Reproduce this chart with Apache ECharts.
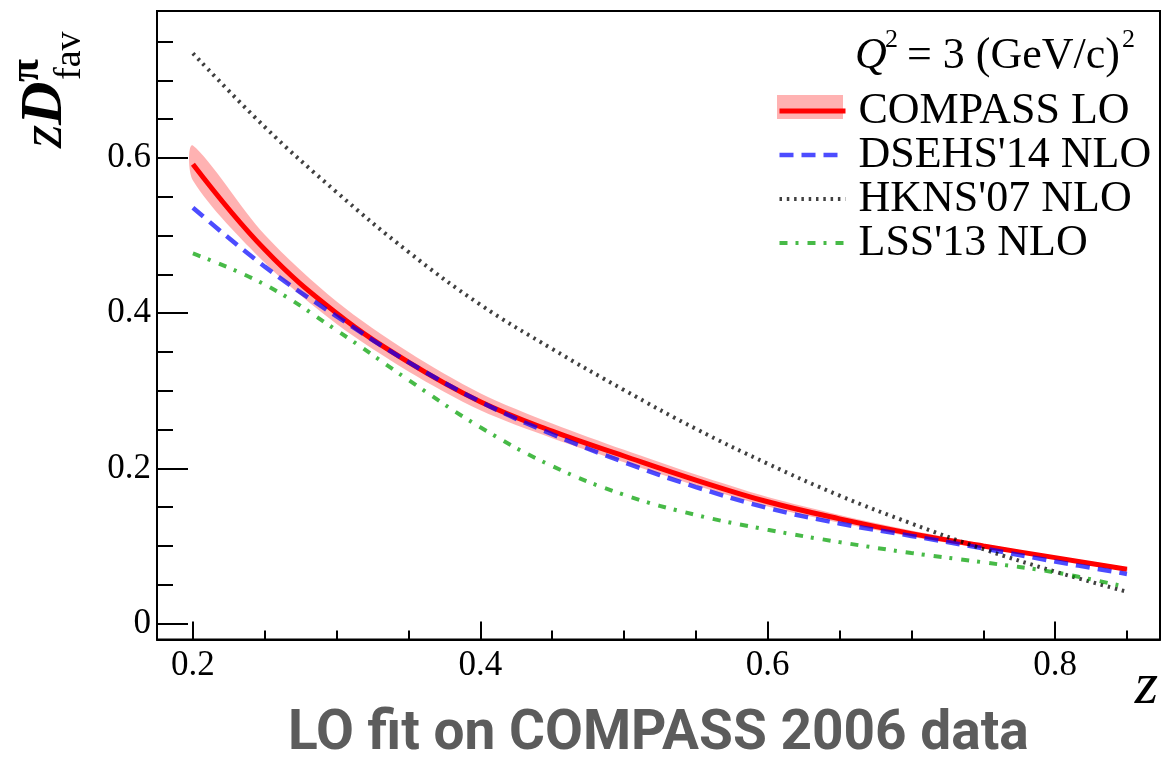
<!DOCTYPE html>
<html>
<head>
<meta charset="utf-8">
<script src="https://cdn.jsdelivr.net/npm/echarts@6/dist/echarts.min.js"></script>
<style>
html,body{margin:0;padding:0;background:#fff;}
#chart{width:1163px;height:759px;}
</style>
</head>
<body>
<div id="chart"></div>
<script>
// ---- data ----
var zVals      = [0.20, 0.25, 0.30, 0.35, 0.40, 0.45, 0.50, 0.55, 0.60, 0.65, 0.70, 0.75, 0.80, 0.85];
var compassLO  = [0.592, 0.482, 0.400, 0.337, 0.286, 0.248, 0.216, 0.185, 0.157, 0.135, 0.116, 0.100, 0.085, 0.070];
var bandLower  = [0.571, 0.465, 0.386, 0.325, 0.275, 0.239, 0.208, 0.178, 0.151, 0.130, 0.112, 0.097, 0.083, 0.068];
var bandUpper  = [0.616, 0.501, 0.415, 0.350, 0.297, 0.258, 0.224, 0.192, 0.163, 0.140, 0.120, 0.103, 0.087, 0.072];
var dsehs14    = [0.536, 0.460, 0.396, 0.337, 0.286, 0.244, 0.208, 0.176, 0.149, 0.129, 0.113, 0.097, 0.080, 0.064];
var hkns07     = [0.735, 0.640, 0.556, 0.479, 0.411, 0.354, 0.301, 0.251, 0.206, 0.165, 0.129, 0.096, 0.067, 0.041];
var lss13      = [0.477, 0.437, 0.378, 0.314, 0.253, 0.203, 0.166, 0.140, 0.121, 0.105, 0.091, 0.079, 0.066, 0.047];

var xMajorTicks = [0.2, 0.4, 0.6, 0.8];
var xMinorTicks = [0.25, 0.3, 0.35, 0.45, 0.5, 0.55, 0.65, 0.7, 0.75, 0.85];
var yMajorTicks = [0, 0.2, 0.4, 0.6];
var yMinorTicks = [0.05, 0.1, 0.15, 0.25, 0.3, 0.35, 0.45, 0.5, 0.55, 0.65, 0.7, 0.75];

var seriesNames = ['COMPASS LO', "DSEHS'14 NLO", "HKNS'07 NLO", "LSS'13 NLO"];

function pairs(ys) { return zVals.map(function (z, i) { return [z, ys[i]]; }); }
var bandData = zVals.map(function (z, i) { return [z, bandLower[i], bandUpper[i]]; });

var SERIF = 'Liberation Serif';
var SMOOTH = 0.4;

var chart = echarts.init(document.getElementById('chart'), null, {renderer: 'canvas'});

var xBase = {
  type: 'value', min: 0.175, max: 0.873, gridIndex: 0, position: 'bottom',
  splitLine: {show: false}
};
var yBase = {
  type: 'value', min: -0.0205, max: 0.7895, gridIndex: 0, position: 'left',
  splitLine: {show: false}
};

function renderBand(params, api) {
  if (params.dataIndex !== 0) { return null; }
  var upper = [], lower = [];
  for (var i = 0; i < zVals.length; i++) {
    upper.push(api.coord([zVals[i], bandUpper[i]]));
    lower.push(api.coord([zVals[i], bandLower[i]]));
  }
  var pts = upper.concat(lower.reverse());
  return {
    type: 'polygon',
    shape: {points: pts, smooth: 0.3},
    style: {fill: 'rgba(255,0,0,0.3)', stroke: null}
  };
}

var option = {
  animation: false,
  backgroundColor: '#ffffff',
  title: {
    text: 'LO fit on COMPASS 2006 data',
    left: 288, top: 708,
    padding: 0,
    textStyle: {fontFamily: 'Roboto', fontWeight: 'bold', fontSize: 55, color: '#5c5c5c'}
  },
  grid: {
    left: 157, top: 11, right: 3, bottom: 119.5,
    show: true, borderColor: '#000', borderWidth: 2, backgroundColor: 'transparent',
    containLabel: false
  },
  xAxis: [
    Object.assign({}, xBase, {
      axisLine: {show: true, onZero: false, lineStyle: {color: '#000', width: 2}},
      axisTick: {show: true, inside: true, length: 18, customValues: xMajorTicks, lineStyle: {color: '#000', width: 2}},
      axisLabel: {show: true, customValues: xMajorTicks, margin: 9, fontFamily: SERIF, fontSize: 35, color: '#000'}
    }),
    Object.assign({}, xBase, {
      axisLine: {show: false, onZero: false},
      axisTick: {show: true, inside: true, length: 9, customValues: xMinorTicks, lineStyle: {color: '#000', width: 2}},
      axisLabel: {show: false}
    })
  ],
  yAxis: [
    Object.assign({}, yBase, {
      axisLine: {show: true, onZero: false, lineStyle: {color: '#000', width: 2}},
      axisTick: {show: true, inside: true, length: 31, customValues: yMajorTicks, lineStyle: {color: '#000', width: 2}},
      axisLabel: {show: true, customValues: yMajorTicks, margin: 6, fontFamily: SERIF, fontSize: 35, color: '#000'}
    }),
    Object.assign({}, yBase, {
      axisLine: {show: false, onZero: false},
      axisTick: {show: true, inside: true, length: 16, customValues: yMinorTicks, lineStyle: {color: '#000', width: 2}},
      axisLabel: {show: false}
    })
  ],
  legend: [
    {
      data: seriesNames,
      orient: 'vertical', left: 777, top: 89, padding: 0,
      itemWidth: 66, itemHeight: 24, itemGap: 0,
      selectedMode: false, z: 6,
      itemStyle: {opacity: 0},
      lineStyle: {width: 'inherit'},
      textStyle: {fontFamily: SERIF, fontSize: 44, lineHeight: 35.3, color: '#000', padding: [0, 0, 0, 8]}
    },
    {
      data: [{name: 'COMPASS band', icon: 'rect'}],
      orient: 'vertical', left: 777, top: 95, padding: 0,
      itemWidth: 66, itemHeight: 24, itemGap: 0,
      selectedMode: false, z: 5,
      formatter: function () { return ''; },
      textStyle: {fontSize: 1}
    }
  ],
  series: [
    {
      name: 'COMPASS band', type: 'custom', renderItem: renderBand,
      data: bandData, silent: true, z: 1,
      itemStyle: {color: 'rgba(255,0,0,0.3)'},
      encode: {x: 0, y: [1, 2]}
    },
    {
      name: seriesNames[0], type: 'line', smooth: SMOOTH, symbol: 'none', z: 2,
      color: '#ff0000',
      data: pairs(compassLO), lineStyle: {color: '#ff0000', width: 5}
    },
    {
      name: seriesNames[1], type: 'line', smooth: SMOOTH, symbol: 'none', z: 3,
      color: 'rgba(0,0,255,0.7)',
      data: pairs(dsehs14), lineStyle: {color: 'rgba(0,0,255,0.7)', width: 4.5, type: [14, 8]}
    },
    {
      name: seriesNames[2], type: 'line', smooth: SMOOTH, symbol: 'none', z: 4,
      color: 'rgba(0,0,0,0.75)',
      data: pairs(hkns07), lineStyle: {color: 'rgba(0,0,0,0.75)', width: 4, type: [2.5, 4.8]}
    },
    {
      name: seriesNames[3], type: 'line', smooth: SMOOTH, symbol: 'none', z: 5,
      color: 'rgba(0,160,0,0.72)',
      data: pairs(lss13), lineStyle: {color: 'rgba(0,160,0,0.72)', width: 4, type: [8, 8, 3, 9]}
    }
  ],
  graphic: [
    // y-axis title: z D^pi_fav (rotated)
    {
      type: 'group', x: 63, y: 148, rotation: Math.PI / 2,
      children: [
        {type: 'text', x: 0, y: -18, style: {text: 'z', fontFamily: SERIF, fontStyle: 'italic', fontSize: 60, fill: '#000', verticalAlign: 'middle', align: 'left'}},
        {type: 'text', x: 23, y: -18, style: {text: 'D', fontFamily: SERIF, fontStyle: 'italic', fontWeight: 'bold', fontSize: 60, fill: '#000', verticalAlign: 'middle', align: 'left'}},
        {type: 'text', x: 66, y: -36, style: {text: 'π', fontFamily: SERIF, fontWeight: 'bold', fontSize: 42, fill: '#000', verticalAlign: 'middle', align: 'left'}},
        {type: 'text', x: 68, y: 7.4, style: {text: 'fav', fontFamily: SERIF, fontSize: 38, fill: '#000', verticalAlign: 'middle', align: 'left'}}
      ]
    },
    // x-axis title
    {type: 'text', x: 1158, y: 687, style: {text: 'z', fontFamily: SERIF, fontStyle: 'italic', fontSize: 60, fill: '#000', verticalAlign: 'middle', align: 'right'}},
    // Q^2 = 3 (GeV/c)^2
    {type: 'text', x: 855, y: 56.6, style: {text: 'Q', fontFamily: SERIF, fontStyle: 'italic', fontSize: 44, fill: '#000', verticalAlign: 'middle', align: 'left'}},
    {type: 'text', x: 885, y: 40.5, style: {text: '2', fontFamily: SERIF, fontSize: 26, fill: '#000', verticalAlign: 'middle', align: 'left'}},
    {type: 'text', x: 1120, y: 56.6, style: {text: '= 3 (GeV/c)', fontFamily: SERIF, fontSize: 44, fill: '#000', verticalAlign: 'middle', align: 'right'}},
    {type: 'text', x: 1122, y: 40.5, style: {text: '2', fontFamily: SERIF, fontSize: 26, fill: '#000', verticalAlign: 'middle', align: 'left'}}
  ]
};

chart.setOption(option);
</script>
</body>
</html>
